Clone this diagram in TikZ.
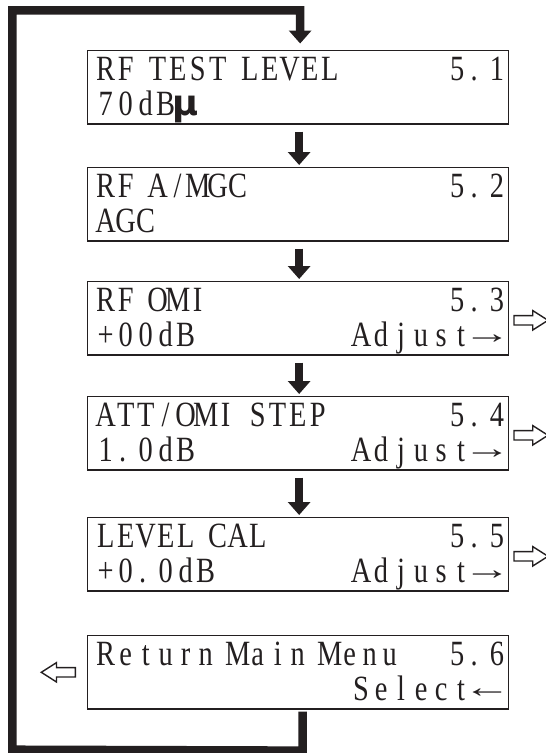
\documentclass[tikz,border=0pt]{standalone}
\usepackage{fontspec}
\usepackage{graphicx}
\usetikzlibrary{arrows.meta,shapes.arrows,calc}
\newfontfamily\lcdfont[FakeStretch=0.8]{Liberation Serif}
\newfontfamily\symfont{DejaVu Sans}
\newfontfamily\arrowfont{Liberation Serif}
\newdimen\lcdpitch \lcdpitch=20pt
\newdimen\lcdspace \lcdspace=12pt
% set a string in fixed-pitch cells, like a character LCD
\ExplSyntaxOn
\NewDocumentCommand \lcd { m }
  {
    \str_map_inline:nn {#1}
      {
        \str_if_eq:nnTF {##1} {~}
          { \hspace*{\lcdspace} }
          {
            \str_if_eq:nnTF {##1} {.}
              { \makebox[\lcdpitch][l]{\hspace*{3.5pt}.} }
              { \makebox[\lcdpitch][c]{##1} }
          }
      }
  }
\ExplSyntaxOff
% long thin arrow glyph of the display
\newcommand\lcdarrow[1]{\makebox[32pt][c]{\raisebox{3pt}{\arrowfont\fontsize{30}{32}\selectfont\scalebox{1.6}[1]{#1}}}}
\definecolor{ink}{HTML}{231F20}
\tikzset{
  screen/.style={draw=ink, line width=1.3pt, rectangle, minimum width=421pt,
    minimum height=73.3pt, inner sep=0pt, anchor=north west},
  lcdtext/.style={inner sep=0pt, text=ink, font=\lcdfont\fontsize{35.5}{40}\selectfont},
  leftline/.style={lcdtext, anchor=base west},
  rightline/.style={lcdtext, anchor=base east},
  flow/.style={draw=ink, line width=8.5pt, line join=miter,
    -{Triangle[width=22pt,length=13pt]}},
  hollow/.style={single arrow, draw=ink, line width=1.4pt, fill=white,
    minimum height=34pt, inner xsep=0pt, inner ysep=4pt,
    single arrow head extend=5pt, single arrow tip angle=65}
}
\begin{document}
\begin{tikzpicture}[x=1pt,y=-1pt]
\useasboundingbox (0,0) rectangle (546,753);

% menu screens
\node[screen] (b1) at (87,50) {};
\node[screen] (b2) at (87,167) {};
\node[screen] (b3) at (87,281) {};
\node[screen] (b4) at (87,396) {};
\node[screen] (b5) at (87,517) {};
\node[screen] (b6) at (87,635) {};

% screen texts
\node[leftline] (t1a) at ($(b1.north west)+(8.5,30)$) {\lcd{RF TEST LEVEL}};
\node[rightline] (t1b) at ($(b1.north east)+(-2,30)$) {\lcd{5.1}};
\node[leftline] (t1c) at ($(b1.north west)+(8.5,65.5)$) {\lcd{70dB}\makebox[\lcdpitch]{\symfont\bfseries μ}};

\node[leftline] (t2a) at ($(b2.north west)+(8.5,30)$) {\lcd{RF A/MGC}};
\node[rightline] (t2b) at ($(b2.north east)+(-2,30)$) {\lcd{5.2}};
\node[leftline] (t2c) at ($(b2.north west)+(8.5,65.5)$) {\lcd{AGC}};

\node[leftline] (t3a) at ($(b3.north west)+(8.5,30)$) {\lcd{RF OMI}};
\node[rightline] (t3b) at ($(b3.north east)+(-2,30)$) {\lcd{5.3}};
\node[leftline] (t3c) at ($(b3.north west)+(8.5,65.5)$) {\lcd{+00dB}};
\node[rightline] (t3d) at ($(b3.north east)+(-6,65.5)$) {\lcd{Adjust}\lcdarrow{→}};

\node[leftline] (t4a) at ($(b4.north west)+(8.5,30)$) {\lcd{ATT/OMI STEP}};
\node[rightline] (t4b) at ($(b4.north east)+(-2,30)$) {\lcd{5.4}};
\node[leftline] (t4c) at ($(b4.north west)+(8.5,65.5)$) {\lcd{1.0dB}};
\node[rightline] (t4d) at ($(b4.north east)+(-6,65.5)$) {\lcd{Adjust}\lcdarrow{→}};

\node[leftline] (t5a) at ($(b5.north west)+(8.5,30)$) {\lcd{LEVEL CAL}};
\node[rightline] (t5b) at ($(b5.north east)+(-2,30)$) {\lcd{5.5}};
\node[leftline] (t5c) at ($(b5.north west)+(8.5,65.5)$) {\lcd{+0.0dB}};
\node[rightline] (t5d) at ($(b5.north east)+(-6,65.5)$) {\lcd{Adjust}\lcdarrow{→}};

\node[leftline] (t6a) at ($(b6.north west)+(8.5,30)$) {\lcd{Return Main Menu}};
\node[rightline] (t6b) at ($(b6.north east)+(-2,30)$) {\lcd{5.6}};
\node[rightline] (t6d) at ($(b6.north east)+(-6,65.5)$) {\lcd{Select}\lcdarrow{←}};

% step arrows
\draw[flow] ($(b1.south)+(1,7)$) -- ($(b2.north)+(1,-2)$);
\draw[flow] ($(b2.south)+(1,7)$) -- ($(b3.north)+(1,-2)$);
\draw[flow] ($(b3.south)+(1,7)$) -- ($(b4.north)+(1,-2)$);
\draw[flow] ($(b4.south)+(1,7)$) -- ($(b5.north)+(1,-2)$);

% return loop
\coordinate (cBR) at ($(b6.south)+(4.5,41)$);
\coordinate (cBL) at (12.3,749.7);
\coordinate (cTL) at (12.3,10.3);
\draw[flow] ($(b6.south)+(4.5,2)$) -- (cBR) -- (cBL) -- (cTL) -| ($(b1.north)+(2,-6.5)$);

% sub-menu entry arrows
\node[hollow, anchor=tail] (h3) at ($(b3.east)+(4,2)$) {};
\node[hollow, anchor=tail] (h4) at ($(b4.east)+(4,2)$) {};
\node[hollow, anchor=tail] (h5) at ($(b5.east)+(4,2)$) {};
\node[hollow, shape border rotate=180, anchor=tail] (h6) at ($(b6.west)+(-11,0)$) {};
\end{tikzpicture}
\end{document}
